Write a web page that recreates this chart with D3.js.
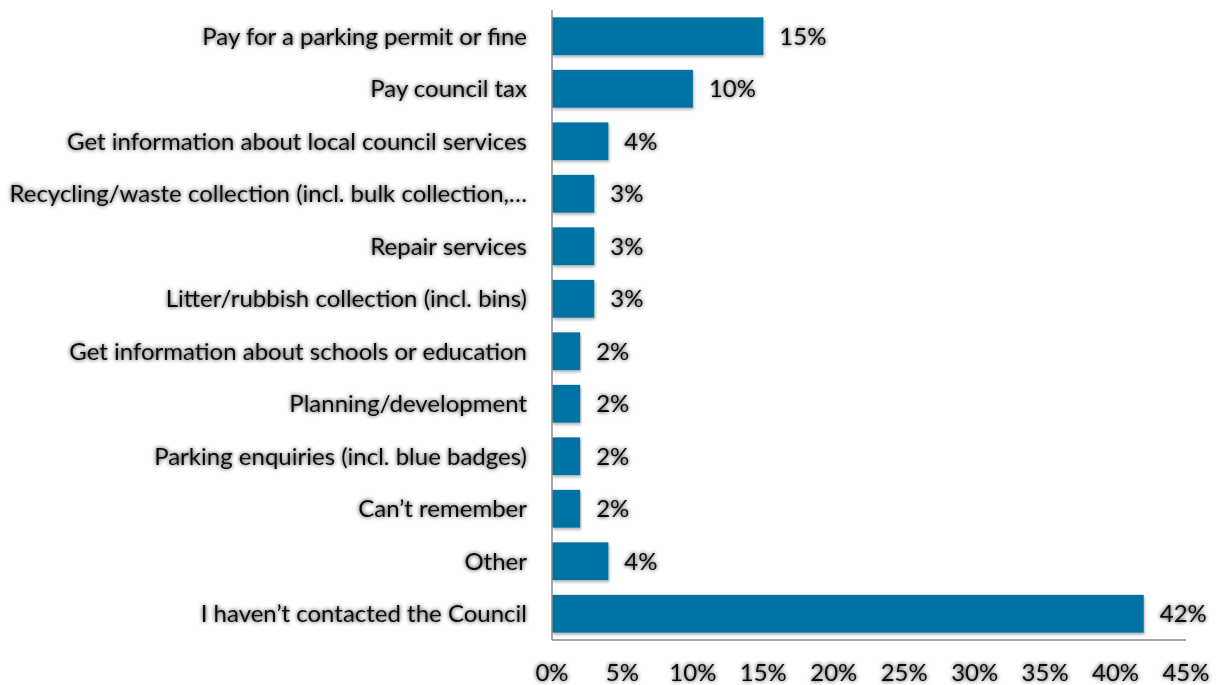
<!DOCTYPE html>
<html>
<head>
<meta charset="utf-8">
<script src="https://cdn.jsdelivr.net/npm/d3@7"></script>
<style>
  body { margin: 0; background: #fff; }
  svg { display: block; font-family: Lato, "Open Sans", sans-serif; }
</style>
</head>
<body>
<svg id="chart" width="1217" height="685"></svg>
<script>
const categories = [
  'Pay for a parking permit or fine',
  'Pay council tax',
  'Get information about local council services',
  'Recycling/waste collection (incl. bulk collection,\u2026',
  'Repair services',
  'Litter/rubbish collection (incl. bins)',
  'Get information about schools or education',
  'Planning/development',
  'Parking enquiries (incl. blue badges)',
  'Can\u2019t remember',
  'Other',
  'I haven\u2019t contacted the Council'
];
const values = [15, 10, 4, 3, 3, 3, 2, 2, 2, 2, 4, 42];
const ticks = [0, 5, 10, 15, 20, 25, 30, 35, 40, 45];

const svg = d3.select('#chart');
const margin = { top: 10, right: 31, bottom: 45, left: 552 };
const width = +svg.attr('width') - margin.left - margin.right;
const height = +svg.attr('height') - margin.top - margin.bottom;

const defs = svg.append('defs');
const glow = defs.append('filter').attr('id', 'glow')
  .attr('x', '-20%').attr('y', '-40%').attr('width', '140%').attr('height', '180%');
glow.append('feGaussianBlur').attr('in', 'SourceAlpha').attr('stdDeviation', 2.2).attr('result', 'b');
glow.append('feComponentTransfer').attr('in', 'b').attr('result', 'c')
  .append('feFuncA').attr('type', 'linear').attr('slope', 0.85);
const gm = glow.append('feMerge');
gm.append('feMergeNode').attr('in', 'c');
gm.append('feMergeNode').attr('in', 'SourceGraphic');

const shadow = defs.append('filter').attr('id', 'barShadow')
  .attr('x', '-5%').attr('y', '-20%').attr('width', '110%').attr('height', '150%');
shadow.append('feDropShadow').attr('dx', 1).attr('dy', 2).attr('stdDeviation', 1.5)
  .attr('flood-color', '#000').attr('flood-opacity', 0.3);

const g = svg.append('g').attr('transform', `translate(${margin.left},${margin.top})`);

const x = d3.scaleLinear().domain([0, 45]).range([0, width]);
const y = d3.scaleBand().domain(categories).range([0, height]).paddingInner(0.28).paddingOuter(0.14);

g.selectAll('.bar')
  .data(values)
  .join('rect')
  .attr('class', 'bar')
  .attr('x', 0)
  .attr('y', (d, i) => y(categories[i]))
  .attr('width', d => x(d))
  .attr('height', y.bandwidth())
  .attr('fill', '#0072a3')
  .attr('filter', 'url(#barShadow)');

// axis lines
g.append('line').attr('x1', 0).attr('x2', 0).attr('y1', 0).attr('y2', height)
  .attr('stroke', '#8c8c8c').attr('stroke-width', 1.5);
g.append('line').attr('x1', 0).attr('x2', x(45)).attr('y1', height).attr('y2', height)
  .attr('stroke', '#8c8c8c').attr('stroke-width', 1.5);

// category labels
g.selectAll('.cat')
  .data(categories)
  .join('text')
  .attr('class', 'cat')
  .attr('x', -25)
  .attr('y', d => y(d) + y.bandwidth() / 2)
  .attr('dy', '0.35em')
  .attr('text-anchor', 'end')
  .attr('font-size', 24)
  .attr('fill', '#111')
  .attr('filter', 'url(#glow)')
  .text(d => d);

// value labels
g.selectAll('.val')
  .data(values)
  .join('text')
  .attr('class', 'val')
  .attr('x', d => x(d) + 16)
  .attr('y', (d, i) => y(categories[i]) + y.bandwidth() / 2)
  .attr('dy', '0.35em')
  .attr('font-size', 24)
  .attr('fill', '#111')
  .attr('filter', 'url(#glow)')
  .text(d => d + '%');

// x tick labels
g.selectAll('.tick-label')
  .data(ticks)
  .join('text')
  .attr('class', 'tick-label')
  .attr('x', d => x(d))
  .attr('y', height + 33)
  .attr('dy', '0.35em')
  .attr('text-anchor', 'middle')
  .attr('font-size', 24)
  .attr('fill', '#111')
  .attr('filter', 'url(#glow)')
  .text(d => d + '%');
</script>
</body>
</html>
